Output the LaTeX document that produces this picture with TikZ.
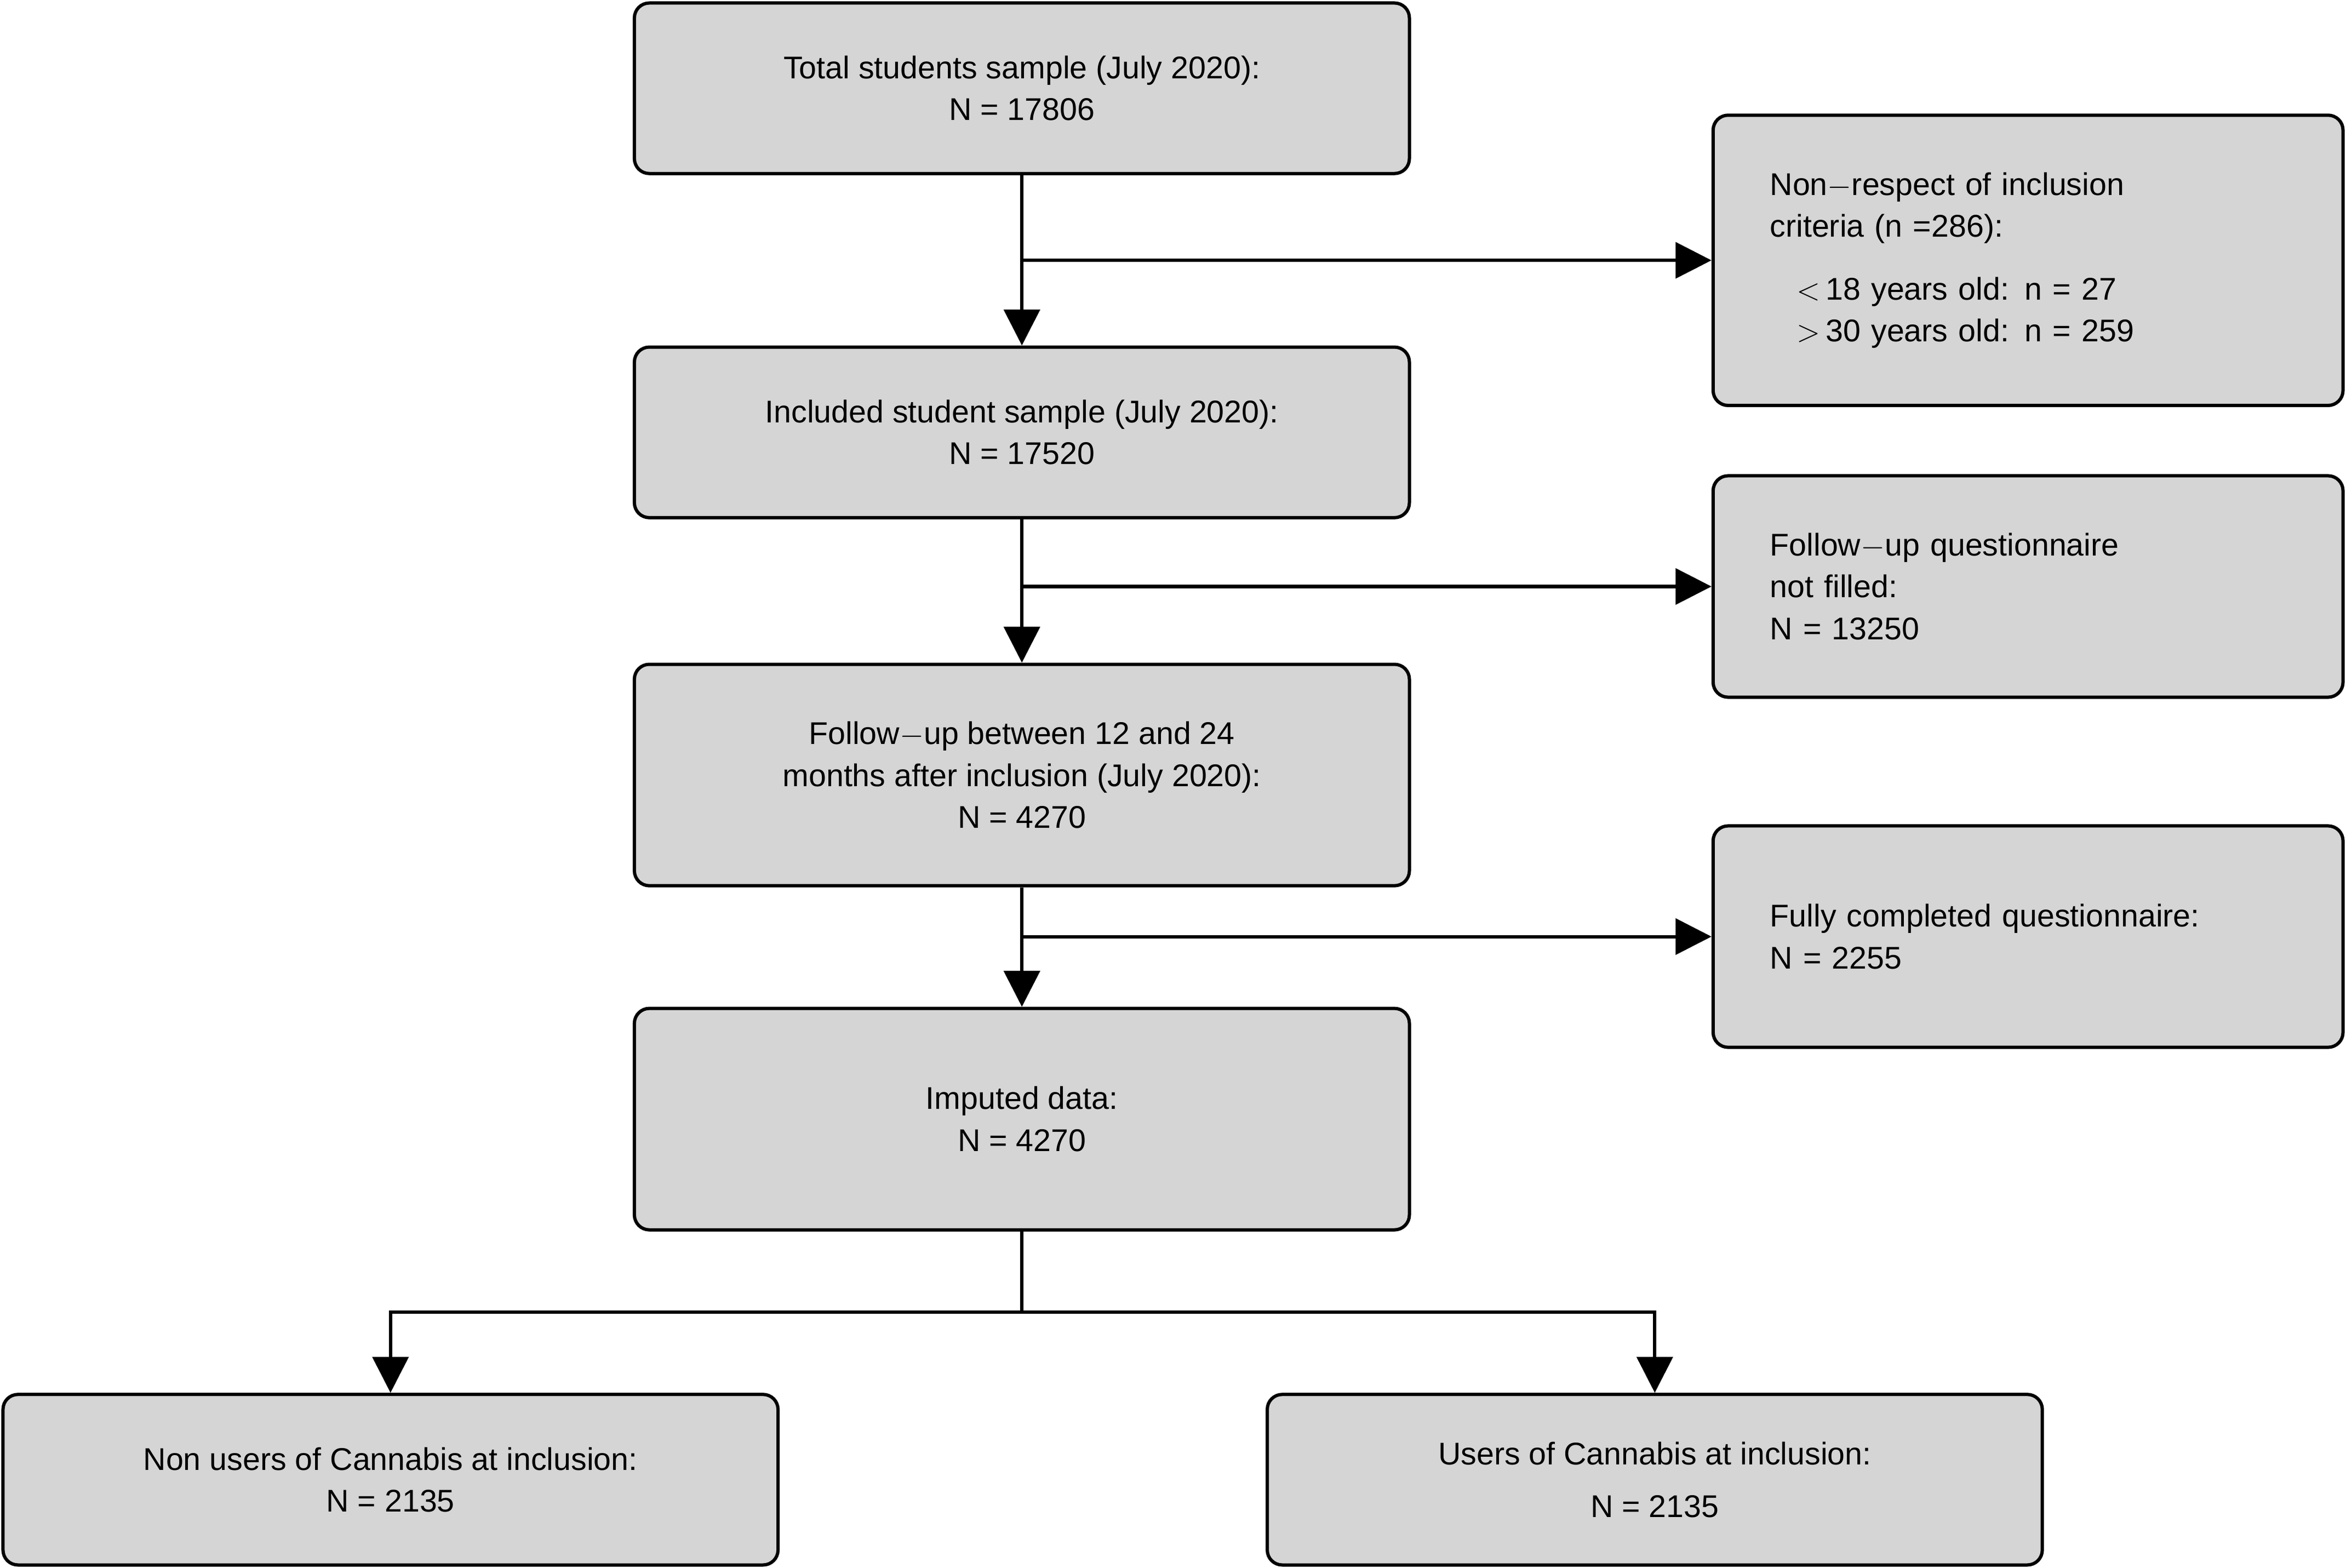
\documentclass[tikz,border=0pt]{standalone}
\usepackage{fontspec}
\setmainfont{Liberation Sans}
\usetikzlibrary{arrows.meta}
\begin{document}
\begin{tikzpicture}[x=1pt,y=-1pt,
  box/.style={draw=black,line width=2.2pt,fill=gray!33,rounded corners=10pt,align=center,
    font=\fontsize{21}{28}\selectfont,minimum width=518pt,inner sep=0pt},
  sbox/.style={draw=black,line width=2.2pt,fill=gray!33,rounded corners=10pt,align=left,
    font=\fontsize{21}{28}\selectfont,text width=345pt,inner xsep=38pt,inner ysep=0pt},
  arr/.style={line width=2.2pt,-{Triangle[length=24pt,width=24pt]}},
  ln/.style={line width=2.2pt}]
\useasboundingbox (0,0) rectangle (1568,1048);
\node[box,minimum height=114pt] (a) at (683,59) {Total students sample (July 2020):\\N = 17806};
\node[sbox,minimum height=194pt] (b) at (1355.5,174) {Non$-$respect of inclusion\\criteria (n =286):\\[14pt]
\hspace*{18pt}$<$\,18 years old: n = 27\\\hspace*{18pt}$>$\,30 years old: n = 259};
\node[box,minimum height=114pt] (c) at (683,289) {Included student sample (July 2020):\\N = 17520};
\node[sbox,minimum height=148pt] (d) at (1355.5,392) {Follow$-$up questionnaire\\not filled:\\N = 13250};
\node[box,minimum height=148pt] (e) at (683,518) {Follow$-$up between 12 and 24\\months after inclusion (July 2020):\\N = 4270};
\node[sbox,minimum height=148pt] (f) at (1355.5,626) {Fully completed questionnaire:\\N = 2255};
\node[box,minimum height=148pt] (g) at (683,748) {Imputed data:\\N = 4270};
\node[box,minimum height=114pt] (h) at (261,989) {Non users of Cannabis at inclusion:\\N = 2135};
\node[box,minimum height=114pt] (i) at (1106,989) {Users of Cannabis at inclusion:\\[7pt]N = 2135};
\draw[arr] (a) -- (c);
\draw[arr] (683,174) -- (b.west|-683,174);
\draw[arr] (c) -- (e);
\draw[arr] (683,392) -- (d.west|-683,392);
\draw[arr] (e) -- (g);
\draw[arr] (683,626) -- (f.west|-683,626);
\coordinate (j) at (683,877);
\draw[ln] (g.south) -- (j);
\draw[arr] (j) -| (h.north);
\draw[arr] (j) -| (i.north);
\end{tikzpicture}
\end{document}
